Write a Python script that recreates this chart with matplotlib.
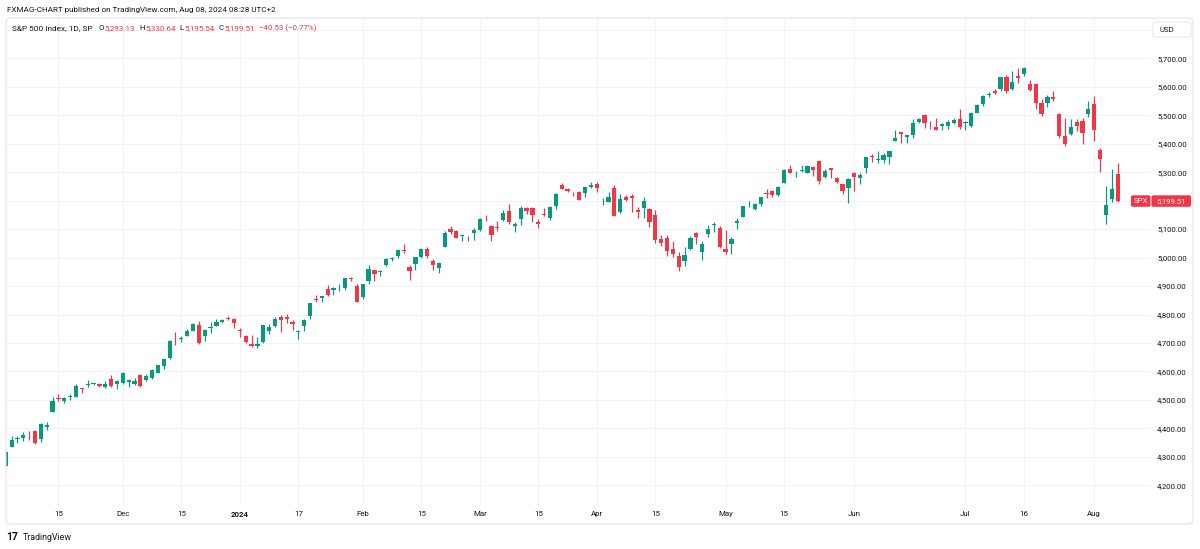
import numpy as np
import pandas as pd
import matplotlib
matplotlib.use('Agg')
import matplotlib.pyplot as plt
from matplotlib.patches import FancyBboxPatch

plt.rcParams['font.family'] = ['Roboto', 'DejaVu Sans']

# trading calendar (NYSE holidays in range)
holidays = ['2023-11-23', '2023-12-25', '2024-01-01', '2024-01-15', '2024-02-19',
            '2024-03-29', '2024-05-27', '2024-06-19', '2024-07-04']
dates = pd.bdate_range('2023-11-02', '2024-08-07', freq='C', holidays=holidays)

# S&P 500 daily OHLC, Nov 2 2023 - Aug 7 2024
opens = [
    4268.26, 4334.23, 4364.27, 4366.21, 4384.37, 4391.41, 4364.15, 4406.66, 4458.97, 4505.30,
    4497.08, 4509.55, 4511.70, 4538.77, 4553.04, 4555.84, 4554.86, 4545.55, 4571.84, 4554.87,
    4559.43, 4564.37, 4557.25, 4586.23, 4568.84, 4576.20, 4593.39, 4618.30, 4646.20, 4721.04,
    4714.23, 4725.58, 4743.72, 4764.73, 4724.29, 4753.92, 4758.86, 4773.45, 4786.44, 4782.88,
    4745.20, 4725.07, 4697.42, 4690.57, 4703.70, 4741.93, 4759.94, 4792.13, 4791.18, 4772.35,
    4739.13, 4760.10, 4796.28, 4853.42, 4856.80, 4888.56, 4886.66, 4888.91, 4892.95, 4925.89,
    4899.19,
    4861.11, 4916.06, 4957.19, 4950.16, 4973.05, 4995.16, 5004.17, 5026.83, 4967.94, 4976.44,
    5003.14, 5031.13, 4989.32, 4963.03, 5038.83, 5100.92, 5093.00, 5074.60, 5067.20, 5085.36,
    5098.51, 5130.99, 5110.52, 5108.03, 5132.38, 5164.46, 5111.96, 5134.30, 5173.49, 5175.14,
    5123.31, 5154.77, 5139.09, 5181.69, 5253.43, 5242.48, 5219.52, 5228.85, 5226.31, 5248.03,
    5257.97, 5204.29, 5194.37, 5244.05, 5158.95, 5211.37, 5217.03, 5167.88, 5172.95, 5171.51,
    5149.67, 5064.59, 5068.97, 5031.52, 5005.44, 4987.33, 5028.85, 5084.86, 5019.88, 5084.65,
    5114.13, 5103.78,
    5029.03, 5049.32, 5122.78, 5142.42, 5187.20, 5168.98, 5189.03, 5225.49, 5233.08, 5221.10,
    5263.26, 5310.07, 5303.10, 5305.35, 5298.69, 5319.28, 5340.26, 5281.45, 5315.91, 5278.73,
    5259.77, 5243.21,
    5297.15, 5278.24, 5314.48, 5357.80, 5343.81, 5341.22, 5353.00, 5409.13, 5441.93, 5424.08,
    5431.11, 5476.15, 5499.99, 5466.77, 5459.58, 5460.73, 5460.71, 5473.59, 5488.48,
    5471.08, 5461.84, 5507.44, 5537.91, 5572.75, 5584.24, 5591.26, 5635.21, 5590.76, 5638.16,
    5644.09, 5610.07, 5608.56, 5543.37, 5544.54, 5565.30, 5505.84, 5428.70, 5433.67, 5476.55,
    5478.73, 5505.59,
    5537.84, 5376.63, 5151.14, 5206.42, 5293.13]
highs = [
    4319.72, 4373.62, 4372.21, 4386.26, 4391.20, 4393.40, 4418.03, 4421.76, 4508.67, 4521.17,
    4511.99, 4520.12, 4557.11, 4542.14, 4568.43, 4560.31, 4560.52, 4568.14, 4587.64, 4569.89,
    4599.39, 4574.06, 4578.56, 4590.74, 4590.92, 4609.23, 4623.71, 4643.93, 4709.69, 4738.57,
    4725.53, 4749.52, 4768.69, 4778.01, 4748.71, 4772.94, 4784.72, 4785.39, 4793.30, 4788.43,
    4754.33, 4729.29, 4726.78, 4721.49, 4764.54, 4765.47, 4790.80, 4798.50, 4802.40, 4782.34,
    4744.23, 4785.79, 4842.07, 4868.41, 4866.48, 4903.68, 4898.15, 4906.69, 4929.31, 4931.09,
    4906.75,
    4906.97, 4975.29, 4957.19, 4957.77, 4999.89, 5000.40, 5030.06, 5048.39, 4975.29, 5002.52,
    5032.72, 5038.70, 4993.71, 4983.21, 5094.39, 5111.06, 5097.66, 5080.69, 5077.37, 5104.99,
    5140.33, 5149.67, 5114.54, 5127.97, 5165.62, 5189.26, 5124.66, 5179.87, 5179.14, 5176.85,
    5136.86, 5175.60, 5180.31, 5226.19, 5261.10, 5246.09, 5229.09, 5235.16, 5249.26, 5264.85,
    5263.95, 5208.34, 5228.75, 5256.59, 5222.18, 5219.57, 5224.81, 5178.43, 5211.78, 5175.03,
    5168.43, 5079.84, 5077.96, 5056.66, 5019.02, 5038.84, 5076.12, 5089.48, 5057.75, 5114.62,
    5123.49, 5110.83,
    5096.12, 5073.21, 5139.12, 5181.00, 5200.23, 5191.95, 5214.42, 5239.66, 5237.26, 5250.37,
    5311.76, 5325.49, 5305.45, 5325.32, 5324.32, 5323.18, 5341.88, 5311.65, 5315.91, 5282.27,
    5260.21, 5280.33,
    5302.11, 5298.80, 5354.16, 5362.35, 5375.08, 5365.79, 5375.95, 5447.25, 5441.93, 5432.39,
    5488.50, 5490.38, 5505.53, 5478.31, 5490.66, 5472.88, 5483.14, 5490.81, 5523.64,
    5479.55, 5509.69, 5539.27, 5570.33, 5583.11, 5590.75, 5635.39, 5642.45, 5655.56, 5666.94,
    5669.67, 5622.49, 5614.05, 5557.50, 5570.36, 5585.34, 5508.04, 5491.59, 5488.32, 5487.74,
    5489.46, 5551.51,
    5566.16, 5383.89, 5250.89, 5312.34, 5330.64]
lows = [
    4268.26, 4334.23, 4347.53, 4355.41, 4359.76, 4343.94, 4353.34, 4393.82, 4458.97, 4495.31,
    4487.83, 4499.66, 4510.36, 4525.51, 4545.05, 4552.80, 4546.32, 4540.51, 4547.15, 4537.24,
    4554.71, 4544.98, 4551.68, 4546.50, 4565.22, 4574.06, 4593.39, 4608.09, 4643.23, 4694.34,
    4704.69, 4725.58, 4743.72, 4697.82, 4708.35, 4736.77, 4758.45, 4768.90, 4780.98, 4751.99,
    4722.67, 4699.71, 4687.53, 4682.11, 4699.82, 4730.35, 4756.20, 4739.58, 4768.98, 4747.12,
    4714.82, 4740.57, 4785.87, 4844.05, 4844.37, 4865.94, 4869.34, 4881.47, 4887.40, 4916.27,
    4845.15,
    4853.52, 4907.99, 4918.09, 4934.88, 4969.05, 4987.09, 5000.34, 5016.83, 4920.31, 4956.45,
    4999.44, 4999.52, 4955.02, 4946.00, 5038.83, 5081.46, 5068.91, 5057.29, 5058.35, 5061.89,
    5094.16, 5127.18, 5056.82, 5092.22, 5128.21, 5117.50, 5091.14, 5114.48, 5151.88, 5123.30,
    5104.35, 5145.47, 5131.59, 5171.55, 5240.66, 5229.87, 5216.09, 5203.42, 5213.92, 5245.82,
    5229.20, 5184.05, 5194.37, 5146.06, 5157.21, 5197.35, 5160.78, 5138.70, 5138.77, 5107.94,
    5052.47, 5039.83, 5007.25, 5001.89, 4953.56, 4969.40, 5027.96, 5047.02, 4990.58, 5073.14,
    5088.65, 5035.31,
    5013.45, 5011.05, 5101.22, 5142.42, 5178.96, 5165.86, 5180.41, 5209.68, 5211.16, 5217.98,
    5263.26, 5296.19, 5283.59, 5302.40, 5297.87, 5286.01, 5256.93, 5278.39, 5280.89, 5262.70,
    5222.10, 5191.68,
    5234.32, 5257.63, 5297.64, 5335.36, 5331.33, 5331.52, 5327.25, 5409.13, 5402.51, 5403.75,
    5420.40, 5471.32, 5455.56, 5452.03, 5447.59, 5446.56, 5451.87, 5467.54, 5451.12,
    5446.53, 5458.43, 5507.42, 5531.63, 5562.51, 5574.57, 5586.44, 5576.53, 5590.44, 5614.75,
    5639.02, 5584.81, 5522.81, 5497.04, 5529.04, 5550.90, 5419.98, 5390.95, 5430.70, 5444.44,
    5398.25, 5493.75,
    5410.42, 5302.03, 5119.26, 5193.56, 5195.54]
closes = [
    4317.78, 4358.34, 4365.98, 4378.38, 4382.78, 4347.35, 4415.24, 4411.55, 4495.70, 4502.88,
    4508.24, 4514.02, 4547.38, 4538.19, 4556.62, 4559.34, 4550.43, 4554.89, 4550.58, 4567.80,
    4594.63, 4569.78, 4567.18, 4549.34, 4585.59, 4604.37, 4622.44, 4643.70, 4707.09, 4719.55,
    4719.19, 4740.56, 4768.37, 4698.35, 4746.75, 4754.63, 4774.75, 4781.58, 4783.35, 4769.83,
    4742.83, 4704.81, 4688.68, 4697.24, 4763.54, 4756.50, 4783.45, 4780.24, 4783.83, 4765.98,
    4739.21, 4780.94, 4839.81, 4850.43, 4864.60, 4868.55, 4894.16, 4890.97, 4927.93, 4924.97,
    4845.65,
    4906.19, 4958.61, 4942.81, 4954.23, 4995.06, 4997.91, 5026.61, 5021.84, 4953.17, 5000.62,
    5029.73, 5005.57, 4975.51, 4981.80, 5087.03, 5088.80, 5069.53, 5078.18, 5069.76, 5096.27,
    5137.08, 5130.95, 5078.65, 5104.76, 5157.36, 5123.69, 5117.94, 5175.27, 5165.31, 5150.48,
    5117.09, 5149.42, 5178.51, 5224.62, 5241.53, 5234.18, 5218.19, 5203.58, 5248.49, 5254.35,
    5243.77, 5205.81, 5211.49, 5147.21, 5204.34, 5202.39, 5209.91, 5160.64, 5199.06, 5123.41,
    5061.82, 5051.41, 5022.21, 5011.12, 4967.23, 5010.60, 5070.55, 5071.63, 5048.42, 5099.96,
    5116.17, 5035.69,
    5018.39, 5064.20, 5127.79, 5180.74, 5187.70, 5187.67, 5214.08, 5222.68, 5221.42, 5246.68,
    5308.15, 5297.10, 5303.27, 5308.13, 5321.41, 5307.01, 5267.84, 5304.72, 5306.04, 5266.95,
    5235.48, 5277.51,
    5283.40, 5291.34, 5354.03, 5352.96, 5346.99, 5360.79, 5375.32, 5421.03, 5433.74, 5431.60,
    5473.23, 5487.03, 5473.17, 5464.62, 5447.87, 5469.30, 5477.90, 5482.87, 5460.48,
    5475.09, 5509.01, 5537.02, 5567.19, 5572.85, 5576.98, 5633.91, 5584.54, 5615.35, 5631.22,
    5667.20, 5588.27, 5544.59, 5505.00, 5564.41, 5555.74, 5427.13, 5399.22, 5459.10, 5463.54,
    5436.44, 5522.30,
    5446.68, 5346.56, 5186.33, 5240.03, 5199.51]

tick_dates = ['2023-11-15', '2023-12-01', '2023-12-15', '2024-01-02', '2024-01-17',
              '2024-02-01', '2024-02-15', '2024-03-01', '2024-03-15', '2024-04-01',
              '2024-04-15', '2024-05-01', '2024-05-15', '2024-06-03', '2024-07-01',
              '2024-07-16', '2024-08-01']
tick_labels = ['15', 'Dec', '15', '2024', '17', 'Feb', '15', 'Mar', '15', 'Apr',
               '15', 'May', '15', 'Jun', 'Jul', '16', 'Aug']
price_ticks = list(range(4200, 5801, 100))

GREEN = '#089981'
RED = '#F23645'
TXT = '#131722'
W, H = 1200, 549


def fx(x):
    return x / W


def fy(y):
    return 1 - y / H


o = np.array(opens)
h = np.array(highs)
l = np.array(lows)
c = np.array(closes)
x = np.arange(len(dates))
col = np.where(c >= o, GREEN, RED)

fig = plt.figure(figsize=(12, 5.49), dpi=100)
ax = fig.add_axes([fx(6), fy(505), fx(1151) - fx(6), fy(18) - fy(505)])

ax.vlines(x, l, h, colors=col, lw=0.85)
ax.bar(x, np.maximum(np.abs(c - o), 2.5), bottom=np.minimum(o, c), width=0.72,
       color=col, lw=0)

ax.set_xlim(0.04, 195.7)
ax.set_ylim(4131, 5841.6)

tick_idx = [dates.get_loc(pd.Timestamp(d)) for d in tick_dates]
ax.set_xticks(tick_idx)
ax.set_xticklabels(tick_labels)
ax.get_xticklabels()[3].set_fontweight('bold')
ax.tick_params(axis='x', length=0, pad=4.5, labelsize=5.7, labelcolor=TXT)

ax.yaxis.tick_right()
ax.set_yticks(price_ticks)
ax.set_yticklabels(['' if v == 5800 else f'{v:,.2f}' for v in price_ticks])
ax.tick_params(axis='y', length=0, pad=4.3, labelsize=5.6, labelcolor=TXT)

ax.grid(True, color='#f0f3fa', lw=0.8)
ax.set_axisbelow(True)
for s in ax.spines.values():
    s.set_visible(False)

# outer frame
frame = FancyBboxPatch((fx(6), fy(524)), fx(1193) - fx(6), fy(18) - fy(524),
                       boxstyle='round,pad=0,rounding_size=0.004', mutation_aspect=W / H,
                       transform=fig.transFigure, fc='none', ec='#e0e3eb', lw=0.8)
fig.add_artist(frame)

# header
fig.text(fx(7), fy(10), 'FXMAG-CHART published on TradingView.com, Aug 08, 2024 08:28 UTC+2',
         fontsize=5.85, color=TXT, va='center')
fig.text(fx(12), fy(28.5), 'S&P 500 Index, 1D, SP', fontsize=5.95, color=TXT, va='center')

# OHLC legend, pieces laid out one after the other
legend_parts = [('O', TXT, 0), ('5,293.13', RED, 0.3), ('H', TXT, 4.5), ('5,330.64', RED, 0.3),
                ('L', TXT, 4.5), ('5,195.54', RED, 0.3), ('C', TXT, 4.5), ('5,199.51', RED, 0.3),
                ('\u221240.53 (\u22120.77%)', RED, 4.5)]
renderer = fig.canvas.get_renderer()
cur = 98.3
for txt, cc, gap in legend_parts:
    cur += gap
    t = fig.text(fx(cur), fy(28.5), txt, fontsize=5.7, color=cc, va='center')
    cur = t.get_window_extent(renderer).x1

# USD box
usd = FancyBboxPatch((fx(1153), fy(37)), fx(1191) - fx(1153), fy(22) - fy(37),
                     boxstyle='round,pad=0,rounding_size=0.002', mutation_aspect=W / H,
                     transform=fig.transFigure, fc='white', ec='#e0e3eb', lw=0.6)
fig.add_artist(usd)
fig.text(fx(1160), fy(29.5), 'USD', fontsize=5.6, color=TXT, va='center')

# last price label
last = closes[-1]
ylast = 58.3 + (5700 - last) * 0.2847
for x0, x1, txt in [(1131, 1150.5, 'SPX'), (1151.5, 1191, f'{last:,.2f}')]:
    box = FancyBboxPatch((fx(x0), fy(ylast + 6)), fx(x1) - fx(x0), fy(ylast - 5.5) - fy(ylast + 6),
                         boxstyle='round,pad=0,rounding_size=0.0015', mutation_aspect=W / H,
                         transform=fig.transFigure, fc=RED, ec='none')
    fig.add_artist(box)
    fig.text(fx((x0 + x1) / 2), fy(ylast + 0.3), txt, fontsize=5.6, color='white',
             ha='center', va='center')

# footer logo
fig.text(fx(6.5), fy(537), '17', fontsize=7.5, fontweight='bold', color=TXT, va='center')
fig.text(fx(23), fy(537), 'TradingView', fontsize=6.4, color=TXT, va='center')

fig.savefig('out.png', dpi=100)
